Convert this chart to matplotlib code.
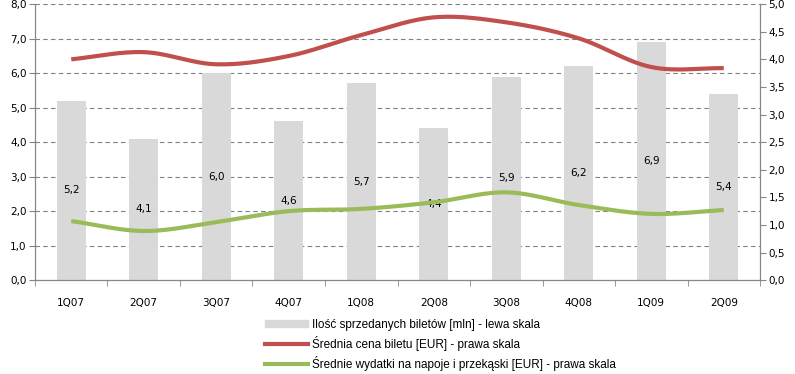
import numpy as np
import matplotlib
matplotlib.use("Agg")
import matplotlib.pyplot as plt
from matplotlib.patches import Patch
from matplotlib.lines import Line2D

quarters = ["1Q07", "2Q07", "3Q07", "4Q07", "1Q08", "2Q08", "3Q08", "4Q08", "1Q09", "2Q09"]
tickets = [5.2, 4.1, 6.0, 4.6, 5.7, 4.4, 5.9, 6.2, 6.9, 5.4]
ticket_price = [4.00, 4.13, 3.91, 4.06, 4.44, 4.76, 4.67, 4.38, 3.86, 3.84]
snack_spend = [1.07, 0.89, 1.05, 1.25, 1.29, 1.41, 1.59, 1.36, 1.20, 1.27]

labels = ["Ilość sprzedanych biletów [mln] - lewa skala",
          "Średnia cena biletu [EUR] - prawa skala",
          "Średnie wydatki na napoje i przekąski [EUR] - prawa skala"]

BAR = "#D9D9D9"
RED = "#C0504D"
GREEN = "#9BBB59"
AXC = "#868686"


def smooth(x, y, n=30):
    # Catmull-Rom through the points, roughly what Excel's smoothed line does
    x = np.asarray(x, float); y = np.asarray(y, float)
    px = np.concatenate([[2 * x[0] - x[1]], x, [2 * x[-1] - x[-2]]])
    py = np.concatenate([[2 * y[0] - y[1]], y, [2 * y[-1] - y[-2]]])
    xs, ys = [], []
    t = np.linspace(0, 1, n)
    for i in range(1, len(px) - 2):
        for p, out in ((px, xs), (py, ys)):
            p0, p1, p2, p3 = p[i - 1], p[i], p[i + 1], p[i + 2]
            out.append(0.5 * ((2 * p1) + (-p0 + p2) * t
                              + (2 * p0 - 5 * p1 + 4 * p2 - p3) * t ** 2
                              + (-p0 + 3 * p1 - 3 * p2 + p3) * t ** 3))
    return np.concatenate(xs), np.concatenate(ys)


plt.rcParams["font.family"] = ["DejaVu Sans"]
fig = plt.figure(figsize=(7.95, 3.74), dpi=100)
ax = fig.add_axes([0.044, 0.251, 0.912, 0.738])
ax2 = ax.twinx()

x = np.arange(len(quarters))
ax.bar(x, tickets, width=0.4, color=BAR, zorder=2)
for xi, v in zip(x, tickets):
    ax.text(xi, v / 2, f"{v:.1f}".replace(".", ","), ha="center", va="center",
            fontsize=7.5, color="black", zorder=5)

sx, sy = smooth(x, ticket_price)
ax2.plot(sx, sy, color=RED, lw=3, solid_capstyle="butt")
sx, sy = smooth(x, snack_spend)
ax2.plot(sx, sy, color=GREEN, lw=3, solid_capstyle="butt")

ax.set_xlim(-0.5, len(quarters) - 0.5)
ax.set_ylim(0, 8)
ax2.set_ylim(0, 5)
ax.set_yticks(np.arange(0, 8.1, 1))
ax.set_yticklabels([f"{v:.1f}".replace(".", ",") for v in np.arange(0, 8.1, 1)])
ax2.set_yticks(np.arange(0, 5.01, 0.5))
ax2.set_yticklabels([f"{v:.1f}".replace(".", ",") for v in np.arange(0, 5.01, 0.5)])
ax.yaxis.grid(True, color="#808080", linestyle=(0, (4, 3)), lw=0.8)
ax.set_axisbelow(True)

ax.set_xticks(x)
ax.set_xticklabels(quarters)
ax.set_xticks(np.arange(-0.5, len(quarters)), minor=True)
ax.tick_params(axis="x", which="major", length=0, pad=13, labelsize=7.5)
ax.tick_params(axis="x", which="minor", length=4, color=AXC)
ax.tick_params(axis="y", length=4, color=AXC, labelsize=7.5, pad=2)
ax2.tick_params(axis="y", length=4, color=AXC, labelsize=7.5, pad=2)

for a in (ax, ax2):
    a.spines["top"].set_visible(False)
    for s in ("left", "right", "bottom"):
        a.spines[s].set_color(AXC)

handles = [Patch(color=BAR, label=labels[0]),
           Line2D([], [], color=RED, lw=3, label=labels[1]),
           Line2D([], [], color=GREEN, lw=3, label=labels[2])]
fig.legend(handles=handles, loc="upper left", bbox_to_anchor=(0.333, 0.148),
           frameon=False, handlelength=3.7, handleheight=0.6,
           handletextpad=0.3, labelspacing=0.45, borderaxespad=0, borderpad=0,
           prop={"family": "Liberation Sans", "size": 8.5})

fig.savefig("out.png", dpi=100)
